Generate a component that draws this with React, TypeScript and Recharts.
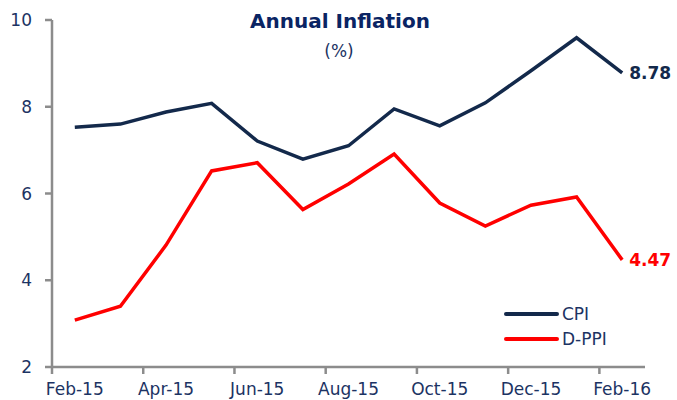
import React from "react";
import { LineChart, Line, XAxis, YAxis, LabelList } from "recharts";

const MONTHS = [
  "Feb-15", "Mar-15", "Apr-15", "May-15", "Jun-15", "Jul-15", "Aug-15",
  "Sep-15", "Oct-15", "Nov-15", "Dec-15", "Jan-16", "Feb-16",
];
const CPI = [7.53, 7.6, 7.88, 8.08, 7.21, 6.79, 7.1, 7.95, 7.56, 8.09, 8.83, 9.59, 8.78];
const DPPI = [3.08, 3.4, 4.81, 6.52, 6.71, 5.63, 6.22, 6.91, 5.78, 5.25, 5.73, 5.92, 4.47];
const Y_TICKS = [2, 4, 6, 8, 10];
const X_TICKS = [0, 2, 4, 6, 8, 10, 12];

const SERIES = [
  { key: "cpi", name: "CPI", color: "#13294b" },
  { key: "dppi", name: "D-PPI", color: "#ff0000" },
];

const data = MONTHS.map((m, i) => ({ idx: i, month: m, cpi: CPI[i], dppi: DPPI[i] }));

const W = 677;
const H = 400;
const MARGIN = { top: 20, right: 32, bottom: 0, left: 0 };
const Y_WIDTH = 52;
const X_HEIGHT = 33;
const AXIS_GREY = "#8c8c8c";
const TEXT = "#1c3363";
const FONT = "DejaVu Sans, Verdana, sans-serif";

const plotWidth = W - MARGIN.left - MARGIN.right - Y_WIDTH;
const halfBand = plotWidth / MONTHS.length / 2;

const XTick = ({ x, y, payload }: any) => (
  <g>
    <line x1={x - halfBand} x2={x - halfBand} y1={y} y2={y + 7} stroke={AXIS_GREY} strokeWidth={2.5} />
    <text x={x} y={y + 28} textAnchor="middle" fill={TEXT} fontSize={17} fontFamily={FONT}>
      {MONTHS[payload.value]}
    </text>
  </g>
);

const endLabel = (color: string) => (props: any) => {
  const { x, y, index, value } = props;
  if (index !== MONTHS.length - 1) return null;
  return (
    <text x={x + 7} y={y} dy="0.36em" fill={color} fontSize={17} fontWeight="bold" fontFamily={FONT}>
      {Number(value).toFixed(2)}
    </text>
  );
};

export default function App() {
  return (
    <div style={{ position: "absolute", left: 0, top: 0, width: W, height: H, background: "#fff" }}>
      <LineChart width={W} height={H} data={data} margin={MARGIN}>
        <XAxis
          dataKey="idx"
          type="number"
          domain={[-0.5, MONTHS.length - 0.5]}
          ticks={X_TICKS}
          interval={0}
          height={X_HEIGHT}
          axisLine={{ stroke: AXIS_GREY, strokeWidth: 2.5 }}
          tickLine={false}
          tickSize={0}
          tickMargin={0}
          tick={<XTick />}
        />
        <YAxis
          domain={[2, 10]}
          ticks={Y_TICKS}
          width={Y_WIDTH}
          axisLine={{ stroke: AXIS_GREY, strokeWidth: 2.5 }}
          tickLine={{ stroke: AXIS_GREY, strokeWidth: 2.5 }}
          tickSize={7}
          tickMargin={13}
          tick={{ fill: TEXT, fontSize: 17, fontFamily: FONT }}
        />
        {SERIES.map((s) => (
          <Line
            key={s.key}
            dataKey={s.key}
            name={s.name}
            stroke={s.color}
            strokeWidth={3.5}
            dot={false}
            activeDot={false}
            isAnimationActive={false}
          >
            <LabelList dataKey={s.key} content={endLabel(s.color)} />
          </Line>
        ))}
      </LineChart>
      <svg width={W} height={H} style={{ position: "absolute", left: 0, top: 0, pointerEvents: "none" }}>
        <text x={340} y={28} textAnchor="middle" fill="#0a2463" fontSize={20} fontWeight="bold" fontFamily={FONT}>
          Annual Inflation
        </text>
        <text x={339} y={57} textAnchor="middle" fill={TEXT} fontSize={17} fontFamily={FONT}>
          (%)
        </text>
        {/* legend */}
        {SERIES.map((s, i) => (
          <g key={s.key}>
            <line x1={506} x2={557} y1={314 + i * 25} y2={314 + i * 25} stroke={s.color} strokeWidth={4} strokeLinecap="round" />
            <text x={562} y={314 + i * 25} dy="0.36em" fill={TEXT} fontSize={17} fontFamily={FONT}>
              {s.name}
            </text>
          </g>
        ))}
      </svg>
    </div>
  );
}
